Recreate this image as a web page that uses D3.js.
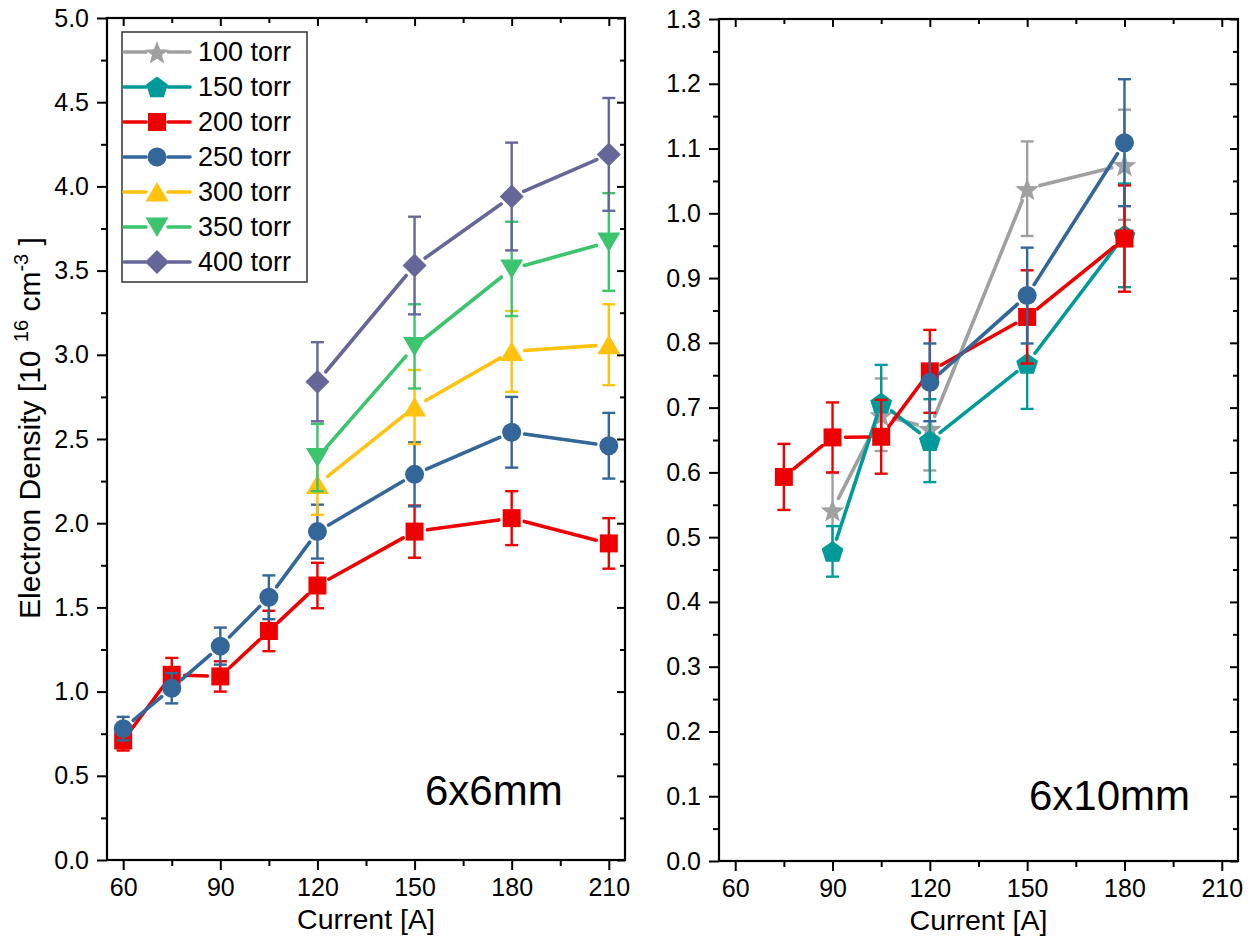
<!DOCTYPE html>
<html>
<head>
<meta charset="utf-8">
<script src="https://cdn.jsdelivr.net/npm/d3@7"></script>
<style>
  html, body { margin: 0; padding: 0; background: #fff; }
  svg { display: block; }
  text { font-family: "Liberation Sans", Arial, Helvetica, sans-serif; fill: #000; }
</style>
</head>
<body>
<svg id="chart" width="1255" height="941"></svg>
<script>
// ---------------- DATA ----------------
const xTickValues = [60, 90, 120, 150, 180, 210];
const xMinorValues = [75, 105, 135, 165, 195];
const leftYTicks = [0.0, 0.5, 1.0, 1.5, 2.0, 2.5, 3.0, 3.5, 4.0, 4.5, 5.0];
const leftYMinor = [0.25, 0.75, 1.25, 1.75, 2.25, 2.75, 3.25, 3.75, 4.25, 4.75];
const rightYTicks = [0.0, 0.1, 0.2, 0.3, 0.4, 0.5, 0.6, 0.7, 0.8, 0.9, 1.0, 1.1, 1.2, 1.3];
const rightYMinor = [0.05, 0.15, 0.25, 0.35, 0.45, 0.55, 0.65, 0.75, 0.85, 0.95, 1.05, 1.15, 1.25];

const seriesNames = ["100 torr", "150 torr", "200 torr", "250 torr", "300 torr", "350 torr", "400 torr"];
const seriesColors = ["#a0a0a0", "#009a9a", "#ee0000", "#336699", "#ffc20e", "#3cc46e", "#666699"];
const seriesShapes = ["star", "pentagon", "square", "circle", "triangleUp", "triangleDown", "diamond"];

// Left panel (6x6mm)
const left200X = [60, 75, 90, 105, 120, 150, 180, 210];
const left200Y = [0.71, 1.10, 1.09, 1.36, 1.63, 1.95, 2.03, 1.88];
const left200E = [0.06, 0.10, 0.09, 0.12, 0.135, 0.155, 0.16, 0.15];

const left250X = [60, 75, 90, 105, 120, 150, 180, 210];
const left250Y = [0.78, 1.02, 1.27, 1.56, 1.95, 2.29, 2.54, 2.46];
const left250E = [0.07, 0.09, 0.11, 0.13, 0.16, 0.19, 0.21, 0.195];

const left300X = [120, 150, 180, 210];
const left300Y = [2.23, 2.69, 3.02, 3.06];
const left300E = [0.18, 0.22, 0.24, 0.24];

const left350X = [120, 150, 180, 210];
const left350Y = [2.39, 3.05, 3.51, 3.67];
const left350E = [0.20, 0.25, 0.28, 0.29];

const left400X = [120, 150, 180, 210];
const left400Y = [2.84, 3.53, 3.94, 4.19];
const left400E = [0.235, 0.29, 0.32, 0.335];

// Right panel (6x10mm)
const right100X = [90, 105, 120, 150, 180];
const right100Y = [0.542, 0.689, 0.668, 1.038, 1.075];
const right100E = [0.057, 0.056, 0.065, 0.073, 0.085];

const right150X = [90, 105, 120, 150, 180];
const right150Y = [0.478, 0.707, 0.649, 0.768, 0.966];
const right150E = [0.039, 0.059, 0.064, 0.07, 0.08];

const right200X = [75, 90, 105, 120, 150, 180];
const right200Y = [0.593, 0.654, 0.655, 0.756, 0.840, 0.961];
const right200E = [0.051, 0.054, 0.057, 0.064, 0.072, 0.082];

const right250X = [120, 150, 180];
const right250Y = [0.739, 0.873, 1.109];
const right250E = [0.06, 0.074, 0.098];

// ---------------- HELPERS ----------------
function zip(xs, ys, es) { return xs.map((x, i) => ({ x: x, y: ys[i], e: es[i] })); }

function markerPath(shape) {
  const pts = [];
  if (shape === "circle") {
    const r = 9.5;
    return `M${r},0A${r},${r} 0 1,1 ${-r},0A${r},${r} 0 1,1 ${r},0Z`;
  }
  if (shape === "square") return "M-9,-9H9V9H-9Z";
  if (shape === "diamond") return "M0,-12L12,0L0,12L-12,0Z";
  if (shape === "triangleUp") return "M0,-10L11.5,9.5L-11.5,9.5Z";
  if (shape === "triangleDown") return "M0,10L11.5,-9.5L-11.5,-9.5Z";
  if (shape === "pentagon") {
    const R = 11.5;
    for (let k = 0; k < 5; k++) {
      const a = -Math.PI / 2 + k * 2 * Math.PI / 5;
      pts.push([R * Math.cos(a), R * Math.sin(a) + 1]);
    }
  }
  if (shape === "star") {
    const R = 12.5, r = 5.2;
    for (let k = 0; k < 10; k++) {
      const a = -Math.PI / 2 + k * Math.PI / 5;
      const rr = k % 2 === 0 ? R : r;
      pts.push([rr * Math.cos(a), rr * Math.sin(a) + 1.5]);
    }
  }
  return "M" + pts.map(p => p[0].toFixed(2) + "," + p[1].toFixed(2)).join("L") + "Z";
}

const svg = d3.select("#chart");

function drawPanel(cfg) {
  const x = d3.scaleLinear().domain([55, 215]).range([cfg.x0, cfg.x1]);
  const y = d3.scaleLinear().domain(cfg.yDomain).range([cfg.y1, cfg.y0]);
  const g = svg.append("g");

  const fmtX = d3.format("d");
  g.append("g").attr("transform", `translate(0,${cfg.y1})`)
    .call(d3.axisBottom(x).tickValues(xTickValues).tickFormat(fmtX).tickSize(10).tickPadding(8));
  g.append("g").attr("transform", `translate(0,${cfg.y1})`)
    .call(d3.axisBottom(x).tickValues(xMinorValues).tickFormat("").tickSize(6));
  g.append("g").attr("transform", `translate(0,${cfg.y0})`)
    .call(d3.axisTop(x).tickValues(xTickValues).tickFormat("").tickSize(-8));
  g.append("g").attr("transform", `translate(0,${cfg.y0})`)
    .call(d3.axisTop(x).tickValues(xMinorValues).tickFormat("").tickSize(-5));
  g.append("g").attr("transform", `translate(${cfg.x0},0)`)
    .call(d3.axisLeft(y).tickValues(cfg.yTicks).tickFormat(d3.format(cfg.yFmt)).tickSize(10).tickPadding(8));
  g.append("g").attr("transform", `translate(${cfg.x0},0)`)
    .call(d3.axisLeft(y).tickValues(cfg.yMinor).tickFormat("").tickSize(6));
  g.append("g").attr("transform", `translate(${cfg.x1},0)`)
    .call(d3.axisRight(y).tickValues(cfg.yTicks).tickFormat("").tickSize(-8));
  g.append("g").attr("transform", `translate(${cfg.x1},0)`)
    .call(d3.axisRight(y).tickValues(cfg.yMinor).tickFormat("").tickSize(-5));

  g.selectAll(".domain").remove();
  g.selectAll(".tick line").attr("stroke", "#000").attr("stroke-width", 2);
  g.selectAll(".tick text").attr("font-size", 25).attr("fill", "#000")
    .style("font-family", '"Liberation Sans", Arial, sans-serif');

  g.append("rect").attr("x", cfg.x0).attr("y", cfg.y0)
    .attr("width", cfg.x1 - cfg.x0).attr("height", cfg.y1 - cfg.y0)
    .attr("fill", "none").attr("stroke", "#000").attr("stroke-width", 2.2);

  const gap = 13;
  cfg.series.forEach(s => {
    const color = seriesColors[s.idx];
    const sg = g.append("g");
    const pts = s.data.map(d => ({ px: x(d.x), py: y(d.y), d: d }));
    for (let i = 0; i < pts.length - 1; i++) {
      const a = pts[i], b = pts[i + 1];
      const dx = b.px - a.px, dy = b.py - a.py;
      const len = Math.hypot(dx, dy);
      if (len <= 2 * gap) continue;
      const ux = dx / len, uy = dy / len;
      sg.append("line")
        .attr("x1", a.px + ux * gap).attr("y1", a.py + uy * gap)
        .attr("x2", b.px - ux * gap).attr("y2", b.py - uy * gap)
        .attr("stroke", color).attr("stroke-width", 3.6).attr("stroke-linecap", "round");
    }
    const eb = sg.selectAll(".eb").data(s.data).enter().append("g");
    eb.append("line")
      .attr("x1", d => x(d.x)).attr("x2", d => x(d.x))
      .attr("y1", d => y(d.y - d.e)).attr("y2", d => y(d.y + d.e))
      .attr("stroke", color).attr("stroke-width", 2.4);
    [1, -1].forEach(sign => {
      eb.append("line")
        .attr("x1", d => x(d.x) - 6.5).attr("x2", d => x(d.x) + 6.5)
        .attr("y1", d => y(d.y + sign * d.e)).attr("y2", d => y(d.y + sign * d.e))
        .attr("stroke", color).attr("stroke-width", 2.4);
    });
    sg.selectAll(".mk").data(s.data).enter().append("path")
      .attr("d", markerPath(seriesShapes[s.idx]))
      .attr("transform", d => `translate(${x(d.x)},${y(d.y)})`)
      .attr("fill", color);
  });

  g.append("text").attr("x", (cfg.x0 + cfg.x1) / 2).attr("y", cfg.y1 + 69)
    .attr("text-anchor", "middle").attr("font-size", 28.5).text("Current [A]");

  g.append("text").attr("x", cfg.labelX).attr("y", cfg.labelY)
    .attr("font-size", 42).text(cfg.label);
  return { x, y };
}

drawPanel({
  x0: 107, x1: 625, y0: 18, y1: 860,
  yDomain: [0, 5], yTicks: leftYTicks, yMinor: leftYMinor, yFmt: ".1f",
  label: "6x6mm", labelX: 425, labelY: 805,
  series: [
    { idx: 2, data: zip(left200X, left200Y, left200E) },
    { idx: 3, data: zip(left250X, left250Y, left250E) },
    { idx: 4, data: zip(left300X, left300Y, left300E) },
    { idx: 5, data: zip(left350X, left350Y, left350E) },
    { idx: 6, data: zip(left400X, left400Y, left400E) }
  ]
});

drawPanel({
  x0: 719, x1: 1238, y0: 19, y1: 861,
  yDomain: [0, 1.3], yTicks: rightYTicks, yMinor: rightYMinor, yFmt: ".1f",
  label: "6x10mm", labelX: 1029, labelY: 810,
  series: [
    { idx: 0, data: zip(right100X, right100Y, right100E) },
    { idx: 1, data: zip(right150X, right150Y, right150E) },
    { idx: 2, data: zip(right200X, right200Y, right200E) },
    { idx: 3, data: zip(right250X, right250Y, right250E) }
  ]
});

const yt = svg.append("text")
  .attr("transform", "translate(40,428) rotate(-90)")
  .attr("text-anchor", "middle").attr("font-size", 30);
yt.append("tspan").text("Electron Density [10 ");
yt.append("tspan").attr("font-size", 20).attr("dy", -12).text("16");
yt.append("tspan").attr("dy", 12).text(" cm");
yt.append("tspan").attr("font-size", 20).attr("dy", -12).text("-3");
yt.append("tspan").attr("dy", 12).text(" ]");

const legend = svg.append("g");
legend.append("rect").attr("x", 122).attr("y", 32).attr("width", 185).attr("height", 250)
  .attr("fill", "#fff").attr("stroke", "#333").attr("stroke-width", 1.5);
seriesNames.forEach((name, i) => {
  const cy = 52 + i * 35;
  const c = seriesColors[i];
  legend.append("line").attr("x1", 124).attr("x2", 146).attr("y1", cy).attr("y2", cy)
    .attr("stroke", c).attr("stroke-width", 3.6).attr("stroke-linecap", "round");
  legend.append("line").attr("x1", 168).attr("x2", 190).attr("y1", cy).attr("y2", cy)
    .attr("stroke", c).attr("stroke-width", 3.6).attr("stroke-linecap", "round");
  legend.append("path").attr("d", markerPath(seriesShapes[i]))
    .attr("transform", `translate(157,${cy})`).attr("fill", c);
  legend.append("text").attr("x", 198).attr("y", cy + 9).attr("font-size", 27).text(name);
});
</script>
</body>
</html>
